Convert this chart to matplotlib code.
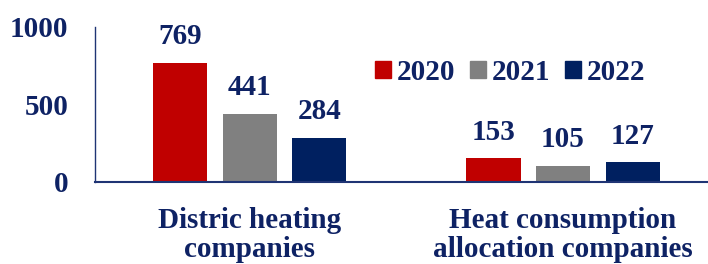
import numpy as np
import matplotlib.pyplot as plt
from matplotlib.patches import Patch

categories = ["Distric heating\ncompanies", "Heat consumption\nallocation companies"]
years = ["2020", "2021", "2022"]
values = {
    "2020": [769, 153],
    "2021": [441, 105],
    "2022": [284, 127],
}
colors = ["#C00000", "#808080", "#002060"]
text_color = "#0E2264"

plt.rcParams["font.family"] = ["Liberation Serif", "DejaVu Serif"]
plt.rcParams["font.weight"] = "bold"

fig = plt.figure(figsize=(7.08, 2.64), dpi=100)
ax = fig.add_axes([0.134, 0.311, 0.866, 0.587])

x = np.arange(len(categories))
step = 0.222
width = 0.1725
for i, year in enumerate(years):
    pos = x + (i - 1) * step
    bars = ax.bar(pos, values[year], width, color=colors[i])
    for b, v in zip(bars, values[year]):
        ax.text(b.get_x() + b.get_width() / 2, v + 80, str(v), ha="center", va="bottom",
                fontsize=21, fontweight="bold", color=text_color)

ax.set_xlim(-0.495, 1.463)
ax.set_ylim(0, 1000)
ax.set_yticks([0, 500, 1000])
ax.set_xticks(x)
ax.set_xticklabels(categories, fontsize=21, fontweight="bold", color=text_color,
                   linespacing=1.08)
ax.tick_params(axis="y", length=0, pad=19, labelsize=21, labelcolor=text_color)
ax.tick_params(axis="x", length=0, pad=18)
for lbl in ax.get_yticklabels():
    lbl.set_fontweight("bold")

for s in ["top", "right"]:
    ax.spines[s].set_visible(False)
ax.spines["left"].set_color("#1F3474")
ax.spines["left"].set_linewidth(1.0)
ax.spines["bottom"].set_color("#1F3474")
ax.spines["bottom"].set_linewidth(1.5)

handles = [Patch(color=c) for c in colors]
ax.legend(handles, years, loc="upper left", bbox_to_anchor=(0.423, 0.925), ncol=3,
          frameon=False, fontsize=21, handlelength=0.55, handleheight=0.55,
          handletextpad=0.2, columnspacing=0.5, labelcolor=text_color,
          borderpad=0.2)

fig.savefig("out.png", dpi=100)
